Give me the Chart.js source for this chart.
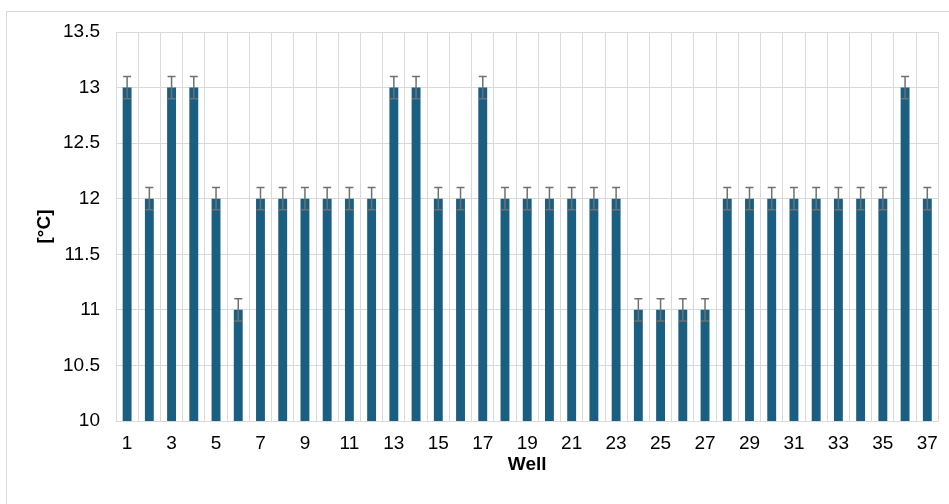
<!DOCTYPE html>
<html>
<head>
<meta charset="utf-8">
<script src="https://cdn.jsdelivr.net/npm/chart.js@4/dist/chart.umd.min.js"></script>
<style>
  html, body { margin: 0; padding: 0; background: #fff; }
  #wrap { width: 949px; height: 504px; }
</style>
</head>
<body>
<div id="wrap"><canvas id="wells" width="949" height="504"></canvas></div>
<script>
// temperature per well, with +/- error
const wells = [];
for (let i = 1; i <= 37; i++) wells.push(String(i));
const temps = [13, 12, 13, 13, 12, 11, 12, 12, 12, 12, 12, 12, 13, 13, 12, 12, 13, 12, 12, 12,
               12, 12, 12, 11, 11, 11, 11, 12, 12, 12, 12, 12, 12, 12, 12, 13, 12];
const errs = temps.map(() => 0.1);

const grey = '#d9d9d9';
const font = 'Liberation Sans, Arial, sans-serif';

// frame around the whole chart (top and left edges show)
const frame = {
  id: 'frame',
  beforeDraw(chart) {
    const ctx = chart.ctx;
    ctx.save();
    ctx.strokeStyle = grey;
    ctx.lineWidth = 1;
    ctx.beginPath();
    ctx.moveTo(6.5, 504);
    ctx.lineTo(6.5, 11.5);
    ctx.lineTo(949, 11.5);
    ctx.stroke();
    ctx.restore();
  }
};

// error bars with caps at both ends
const errorBars = {
  id: 'errorBars',
  afterDatasetsDraw(chart) {
    const ctx = chart.ctx;
    const y = chart.scales.y;
    const meta = chart.getDatasetMeta(0);
    ctx.save();
    ctx.strokeStyle = '#707070';
    ctx.lineWidth = 1.5;
    meta.data.forEach((bar, i) => {
      const x = bar.x;
      const hi = y.getPixelForValue(temps[i] + errs[i]);
      const lo = y.getPixelForValue(temps[i] - errs[i]);
      ctx.beginPath();
      ctx.moveTo(x, hi); ctx.lineTo(x, lo);
      ctx.moveTo(x - 4, hi); ctx.lineTo(x + 4, hi);
      ctx.moveTo(x - 4, lo); ctx.lineTo(x + 4, lo);
      ctx.stroke();
    });
    ctx.restore();
  }
};

new Chart(document.getElementById('wells'), {
  type: 'bar',
  data: {
    labels: wells,
    datasets: [{
      data: temps,
      backgroundColor: '#1a5f81',
      barPercentage: 0.4,
      categoryPercentage: 1
    }]
  },
  options: {
    responsive: false,
    animation: false,
    layout: { padding: { left: 0, top: 32, right: 9, bottom: 0 } },
    plugins: { legend: { display: false }, tooltip: { enabled: false } },
    scales: {
      x: {
        grid: { color: grey, offset: true, drawTicks: false },
        border: { color: grey },
        ticks: {
          autoSkip: false,
          maxRotation: 0,
          padding: 11,
          color: '#000',
          font: { family: font, size: 19 },
          callback: (v, i) => (i % 2 === 0 ? wells[i] : '')
        },
        title: {
          display: true,
          text: 'Well',
          color: '#000',
          font: { family: font, size: 19, weight: 'bold' },
          padding: { top: 0, bottom: 28 }
        },
        afterFit: s => { s.height = 83; }
      },
      y: {
        min: 10,
        max: 13.5,
        grid: { color: grey, drawTicks: false },
        border: { color: grey },
        ticks: {
          stepSize: 0.5,
          padding: 16,
          color: '#000',
          font: { family: font, size: 19 },
          callback: v => String(v)
        },
        title: {
          display: true,
          text: '[°C]',
          color: '#000',
          font: { family: font, size: 19, weight: 'bold' },
          padding: { top: 33, bottom: 0 }
        },
        afterFit: s => { s.width = 116; }
      }
    }
  },
  plugins: [frame, errorBars]
});
</script>
</body>
</html>
